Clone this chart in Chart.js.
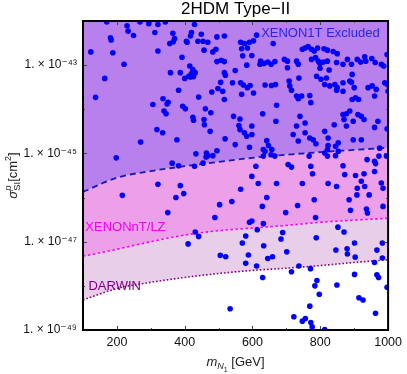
<!DOCTYPE html>
<html>
<head>
<meta charset="utf-8">
<script src="https://cdn.jsdelivr.net/npm/chart.js@4.4.1/dist/chart.umd.min.js"></script>
<style>
html,body{margin:0;padding:0;background:#fff}
</style>
</head>
<body>
<canvas id="c" width="407" height="374"></canvas>
<script>
const FONT = '"Liberation Sans", Arial, "DejaVu Sans", sans-serif';

// mass grid for the direct detection limits [GeV]
const limitMass = [100, 200, 300, 400, 500, 600, 700, 800, 900, 1000];
// log10 of sigma_SI [cm^2] on that grid
const xenon1T = [-45.87, -45.55, -45.40, -45.29, -45.19, -45.10, -45.03, -44.97, -44.92, -44.87];
const xenonNT = [-47.33, -47.17, -47.00, -46.85, -46.75, -46.69, -46.63, -46.56, -46.51, -46.47];
const darwin  = [-48.32, -48.06, -47.92, -47.81, -47.72, -47.65, -47.60, -47.54, -47.47, -47.41];

// scan points: [m_N1 in GeV, log10 sigma_SI]
const scanPoints = [
  [170,-42.02],[230,-42.11],[233,-42.23],[249,-42.33],[268,-42.02],[294,-42.06],[321,-42.08],[343,-42.02],
  [181,-42.38],[183,-42.43],[123,-42.70],[188,-42.72],[221,-42.98],[164,-43.30],[137,-43.73],
  [312,-42.26],[321,-42.68],[365,-42.28],[370,-42.40],[366,-42.47],[356,-42.51],
  [420,-42.26],[417,-42.34],[405,-42.46],[407,-42.48],[429,-42.08],[449,-42.30],
  [439,-42.46],[454,-42.46],[468,-42.48],[495,-42.36],[517,-42.34],[457,-42.66],[483,-42.70],[492,-42.64],
  [392,-42.82],[495,-42.92],[508,-42.89],[517,-42.92],
  [415,-43.02],[424,-43.10],[431,-43.17],[420,-43.19],[412,-43.25],[426,-43.26],[417,-43.27],
  [358,-43.17],[387,-43.17],[400,-43.30],[517,-43.17],[520,-43.23],[506,-43.39],
  [498,-43.53],[512,-43.59],[480,-43.61],[517,-43.78],[441,-43.72],[382,-43.57],
  [336,-43.76],[351,-43.84],[348,-43.88],[306,-43.89],[339,-44.04],[345,-44.10],
  [394,-43.93],[402,-43.99],[461,-43.99],[477,-44.08],[424,-44.18],[426,-44.25],[457,-44.23],[458,-44.35],
  [318,-44.46],[335,-44.53],[475,-44.50],[519,-44.67],[270,-44.74],[377,-44.69],
  [198,-45.10],[433,-45.01],[464,-44.99],[468,-45.05],[463,-45.08],[483,-45.05],[495,-44.94],
  [363,-45.22],[382,-45.28],[429,-45.29],[454,-45.22],
  [321,-45.70],[387,-45.73],[397,-45.91],[216,-45.95],[374,-46.00],
  [350,-46.34],[503,-46.16],[489,-46.45],[431,-46.78],[441,-46.88],[410,-47.05],[505,-47.31],[521,-47.34],
  [612,-42.32],[565,-42.48],[576,-42.51],[591,-42.48],[603,-42.45],[661,-42.51],[568,-42.63],[585,-42.61],
  [571,-42.79],[598,-42.78],[549,-43.12],[583,-43.00],[624,-42.91],[622,-42.98],[634,-42.96],[645,-42.93],
  [655,-42.98],[666,-42.92],[694,-42.87],[703,-42.91],[703,-43.06],[730,-42.91],[735,-42.98],[747,-42.64],
  [755,-42.61],[764,-42.58],[774,-42.64],[782,-42.68],[792,-42.61],[811,-42.63],[821,-42.66],[838,-42.69],
  [850,-42.74],[774,-42.87],[786,-42.83],[794,-42.91],[799,-42.96],[799,-43.07],[809,-42.93],[821,-42.91],
  [826,-43.11],[737,-43.29],[789,-43.25],[802,-43.32],[818,-43.29],[813,-43.44],[828,-43.47],[848,-42.94],
  [867,-42.98],[880,-42.87],[892,-42.98],[894,-43.21],[887,-43.36],[909,-42.87],[919,-42.93],[931,-42.81],
  [934,-42.91],[952,-42.85],[962,-42.94],[980,-42.98],[987,-43.02],[997,-42.76],
  [541,-43.40],[565,-43.40],[573,-43.45],[585,-43.51],[593,-43.46],[603,-43.63],[568,-43.66],[637,-43.45],
  [656,-43.46],[668,-43.44],[708,-43.36],[710,-43.47],[715,-43.57],[730,-43.70],[745,-43.70],[769,-43.69],
  [772,-43.85],[735,-43.76],[843,-43.44],[850,-43.51],[848,-43.57],[867,-43.59],[867,-43.40],[892,-43.39],
  [900,-43.51],[894,-43.78],[904,-43.74],[913,-43.78],[941,-43.51],[953,-43.47],[965,-43.55],[960,-43.70],
  [990,-43.40],[998,-43.44],[1000,-43.59],[671,-43.91],
  [544,-44.16],[563,-44.22],[560,-44.37],[563,-44.46],[576,-44.53],[583,-44.61],[598,-44.38],[598,-44.57],
  [549,-44.80],[591,-44.86],[630,-44.10],[669,-44.27],[642,-44.71],[647,-44.82],[632,-44.91],[637,-44.95],
  [657,-44.91],[730,-44.38],[740,-44.16],[755,-44.31],[755,-44.53],[769,-44.65],[779,-44.69],[787,-44.78],
  [735,-44.72],[720,-44.57],[813,-44.50],[823,-44.65],[823,-44.82],[821,-44.91],[845,-44.84],[853,-44.76],
  [853,-44.95],[841,-44.35],[870,-44.23],[877,-44.38],[877,-44.10],[867,-44.12],[887,-44.04],[897,-44.27],
  [911,-44.12],[921,-44.16],[929,-44.23],[897,-44.69],[921,-44.69],[960,-44.41],[970,-44.27],[997,-44.44],
  [975,-44.88],
  [632,-45.06],[655,-45.03],[666,-45.06],[767,-45.06],[813,-44.99],[821,-45.06],[845,-45.05],[705,-45.25],
  [715,-45.31],[772,-45.29],[867,-45.28],[872,-45.48],[610,-45.29],[598,-45.52],[617,-45.68],[671,-45.68],
  [747,-45.68],[777,-45.46],[823,-45.68],[848,-45.75],[565,-45.81],[904,-45.50],[929,-45.46],[921,-45.63],
  [931,-45.75],[909,-45.79],[938,-45.14],[960,-45.18],[963,-45.23],[973,-45.06],[995,-45.06],[960,-45.41],
  [980,-45.67],[985,-45.79],[944,-45.94],
  [539,-46.09],[642,-46.00],[629,-46.20],[698,-46.34],[733,-46.18],[782,-46.05],[786,-46.45],[885,-46.05],
  [889,-46.29],[908,-45.94],[936,-46.26],[939,-46.35],[985,-46.20],[591,-46.56],[598,-46.53],[632,-46.59],
  [614,-46.73],[580,-46.87],[570,-47.03],[588,-47.30],[580,-47.49],[612,-47.55],[630,-47.81],[633,-47.09],
  [645,-47.38],[659,-47.34],[689,-46.79],[684,-46.94],[701,-47.23],[715,-47.68],[737,-47.55],[771,-47.61],
  [788,-46.91],[852,-46.67],[870,-46.78],[846,-47.19],[879,-47.16],[880,-47.28],[901,-47.03],[903,-47.35],
  [960,-47.47],[967,-47.19],[983,-47.03],[983,-47.37],[901,-47.74],[967,-47.75],[972,-47.81],[997,-48.03],
  [790,-47.88],[784,-48.00],[797,-48.19],[849,-47.98],[769,-48.46],[722,-48.70],[747,-48.80],[756,-48.74],
  [772,-48.83],[776,-48.93],[813,-48.99],[914,-48.27],[926,-48.32],[963,-48.62],[534,-48.52]
];

// axis ticks
const xTicks = [200, 400, 600, 800, 1000];
const xMinorTicks = [100, 300, 500, 700, 900];
const yTickExp = [-49, -48, -47, -46, -45, -44, -43, -42];
const yLabelExp = [-49, -47, -45, -43];

// region labels, anchored in data coordinates
const regionLabels = [
  {text: 'XENON1T Excluded', m: 975, e: -42.28, align: 'right', color: 'rgb(40,40,225)'},
  {text: 'XENONnT/LZ', m: 107, e: -46.68, align: 'left', color: 'rgb(240,0,240)'},
  {text: 'DARWIN', m: 116, e: -48.02, align: 'left', color: 'rgb(128,0,128)'}
];

const SUP = {'-':'\u207B','0':'\u2070','1':'\u00B9','2':'\u00B2','3':'\u00B3','4':'\u2074','5':'\u2075','6':'\u2076','7':'\u2077','8':'\u2078','9':'\u2079'};
function sup(s){ return String(s).split('').map(c => SUP[c] || c).join(''); }

function toXY(mass, exps){ return mass.map((m,i) => ({x: m, y: Math.pow(10, exps[i])})); }

function richText(ctx, parts, x, y){
  // parts: {t, s, dy, it, keep}; centred on x, baseline y
  const widths = [];
  let total = 0;
  parts.forEach(p => {
    ctx.font = (p.it ? 'italic ' : '') + p.s + 'px ' + FONT;
    const w = ctx.measureText(p.t).width;
    widths.push(w);
    if(!p.keep) total += w;
  });
  let cx = x - total/2;
  parts.forEach((p,i) => {
    ctx.font = (p.it ? 'italic ' : '') + p.s + 'px ' + FONT;
    ctx.fillText(p.t, cx, y + (p.dy||0));
    if(!p.keep) cx += widths[i];
  });
}

const framePlugin = {
  id: 'frame',
  afterDatasetsDraw(chart){
    const {ctx, chartArea: a, scales} = chart;
    ctx.save();
    // region labels
    ctx.textBaseline = 'middle';
    ctx.font = '13px ' + FONT;
    regionLabels.forEach(l => {
      ctx.fillStyle = l.color;
      ctx.textAlign = l.align;
      ctx.fillText(l.text, scales.x.getPixelForValue(l.m), scales.y.getPixelForValue(Math.pow(10, l.e)));
    });
    // inner ticks
    ctx.strokeStyle = '#444';
    ctx.lineWidth = 1;
    ctx.beginPath();
    xTicks.concat(xMinorTicks).forEach(v => {
      const px = Math.round(scales.x.getPixelForValue(v)) + 0.5;
      const len = xTicks.includes(v) ? 4 : 2;
      ctx.moveTo(px, a.bottom); ctx.lineTo(px, a.bottom - len);
      ctx.moveTo(px, a.top); ctx.lineTo(px, a.top + len);
    });
    yTickExp.forEach(e => {
      const py = Math.round(scales.y.getPixelForValue(Math.pow(10, e))) + 0.5;
      const len = yLabelExp.includes(e) ? 4 : 2;
      ctx.moveTo(a.left, py); ctx.lineTo(a.left + len, py);
      ctx.moveTo(a.right, py); ctx.lineTo(a.right - len, py);
    });
    ctx.stroke();
    // frame
    ctx.strokeStyle = '#000';
    ctx.lineWidth = 2;
    ctx.strokeRect(a.left, a.top, a.right - a.left, a.bottom - a.top);
    ctx.restore();
  },
  afterDraw(chart){
    const {ctx, chartArea: a} = chart;
    ctx.save();
    ctx.fillStyle = '#222';
    ctx.textAlign = 'left';
    ctx.textBaseline = 'alphabetic';
    // x title: m_{N_1} [GeV]
    richText(ctx, [
      {t: 'm', s: 13, it: true},
      {t: 'N', s: 9, dy: 3, it: true},
      {t: '1', s: 7, dy: 6},
      {t: ' [GeV]', s: 13}
    ], (a.left + a.right)/2, 366);
    // y title: sigma^p_SI [cm^2]
    ctx.translate(17, (a.top + a.bottom)/2);
    ctx.rotate(-Math.PI/2);
    richText(ctx, [
      {t: '\u03C3', s: 13, it: true},
      {t: 'p', s: 9.5, dy: -6, it: true, keep: true},
      {t: 'SI', s: 9.5, dy: 3},
      {t: '[cm', s: 13},
      {t: '2', s: 9, dy: -6},
      {t: ']', s: 13}
    ], 0, 0);
    ctx.restore();
  }
};

new Chart(document.getElementById('c'), {
  type: 'scatter',
  data: {
    datasets: [
      {
        label: 'scan',
        data: scanPoints.map(([m, e]) => ({x: m, y: Math.pow(10, e)})),
        backgroundColor: 'rgb(0,0,255)',
        borderWidth: 0,
        pointRadius: 2.8,
        clip: 0,
        order: 0
      },
      {
        label: 'XENON1T',
        data: toXY(limitMass, xenon1T),
        showLine: true,
        pointRadius: 0,
        borderColor: 'rgb(25,25,185)',
        borderWidth: 1.8,
        borderDash: [6, 4],
        backgroundColor: 'rgb(184,128,236)',
        fill: 'end',
        cubicInterpolationMode: 'monotone',
        order: 1
      },
      {
        label: 'XENONnT/LZ',
        data: toXY(limitMass, xenonNT),
        showLine: true,
        pointRadius: 0,
        borderColor: 'rgb(255,0,255)',
        borderWidth: 1.6,
        borderDash: [2.5, 2.5],
        backgroundColor: 'rgb(236,160,234)',
        fill: '-1',
        cubicInterpolationMode: 'monotone',
        order: 2
      },
      {
        label: 'DARWIN',
        data: toXY(limitMass, darwin),
        showLine: true,
        pointRadius: 0,
        borderColor: 'rgb(128,0,128)',
        borderWidth: 1.6,
        borderDash: [1.6, 2],
        backgroundColor: 'rgb(232,206,232)',
        fill: '-1',
        cubicInterpolationMode: 'monotone',
        order: 3
      }
    ]
  },
  options: {
    responsive: false,
    animation: false,
    devicePixelRatio: 1,
    layout: {padding: {left: 0, right: 16, top: 0, bottom: 0}},
    plugins: {
      legend: {display: false},
      tooltip: {enabled: false},
      title: {
        display: true,
        text: '2HDM Type\u2212II',
        fullSize: false,
        color: '#000',
        font: {family: FONT, size: 17, weight: 'normal', lineHeight: 1},
        padding: {top: 1, bottom: 3}
      }
    },
    scales: {
      x: {
        type: 'linear',
        min: 100,
        max: 1000,
        grid: {display: false, drawTicks: false},
        border: {display: false},
        afterBuildTicks: s => { s.ticks = xTicks.map(v => ({value: v})); },
        afterFit: s => { s.height = 44; },
        ticks: {
          color: '#111',
          padding: 5,
          maxRotation: 0,
          autoSkip: false,
          font: {family: FONT, size: 12.5},
          callback: v => String(v)
        }
      },
      y: {
        type: 'logarithmic',
        min: 1e-49,
        max: 1e-42,
        grid: {display: false, drawTicks: false},
        border: {display: false},
        afterBuildTicks: s => { s.ticks = yTickExp.map(e => ({value: Math.pow(10, e)})); },
        afterFit: s => { s.width = 83; },
        ticks: {
          color: '#111',
          padding: 6,
          autoSkip: false,
          font: {family: FONT, size: 12},
          callback: v => {
            const e = Math.round(Math.log10(v));
            return yLabelExp.includes(e) ? '1. \u00D7 10' + sup(e) : '';
          }
        }
      }
    }
  },
  plugins: [framePlugin]
});
</script>
</body>
</html>
